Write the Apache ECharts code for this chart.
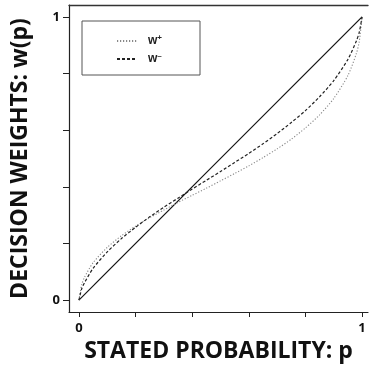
<!DOCTYPE html>
<html><head><meta charset="utf-8">
<script src="https://cdn.jsdelivr.net/npm/echarts@6/dist/echarts.min.js"></script>
<style>html,body{margin:0;padding:0;background:#fff}#c{width:370px;height:376px}</style>
</head><body><div id="c"></div>
<script>
// stated probability p
const pValues = [0, 0.01, 0.02, 0.05, 0.1, 0.15, 0.2, 0.25, 0.3, 0.35, 0.4, 0.45, 0.5, 0.55, 0.6, 0.65, 0.7, 0.75, 0.8, 0.85, 0.9, 0.95, 0.98, 0.99, 1];
// w+ (dotted)
const wPlus  = [0, 0.055, 0.081, 0.132, 0.186, 0.227, 0.261, 0.291, 0.318, 0.345, 0.370, 0.395, 0.421, 0.447, 0.474, 0.503, 0.534, 0.568, 0.608, 0.654, 0.712, 0.793, 0.871, 0.912, 1];
// w- (dashed)
const wMinus = [0, 0.040, 0.062, 0.112, 0.170, 0.217, 0.257, 0.294, 0.328, 0.360, 0.392, 0.423, 0.454, 0.486, 0.518, 0.552, 0.588, 0.627, 0.669, 0.718, 0.775, 0.850, 0.915, 0.945, 1];
// identity line
const diagonal = [[0, 0], [1, 1]];
const tickValues = [0, 0.2, 0.4, 0.6, 0.8, 1];
const tickLabels = [0, 1];
const seriesNames = ['w+', 'w-'];
const xTitle = 'STATED PROBABILITY: p';
const yTitle = 'DECISION WEIGHTS: w(p)';

const pair = (ys) => pValues.map((p, i) => [p, ys[i]]);
const titleFont = '"Open Sans", "DejaVu Sans", sans-serif';

const chart = echarts.init(document.getElementById('c'), null, {renderer: 'canvas'});
chart.setOption({
  animation: false,
  backgroundColor: '#fff',
  grid: {left: 69, right: 2, top: 5, bottom: 64, containLabel: false},
  legend: {
    orient: 'vertical', left: 82, top: 21,
    padding: [13, 38, 10, 34],
    itemWidth: 20, itemHeight: 12, itemGap: 5,
    borderColor: '#555', borderWidth: 1,
    data: seriesNames,
    itemStyle: {color: 'transparent', borderWidth: 0, borderColor: 'transparent'},
    formatter: (n) => n === 'w+' ? '{w|w}{s|+}' : '{w|w}{s|\u2013}',
    textStyle: {
      padding: [0, 0, 0, 6],
      rich: {
        w: {fontSize: 12, fontWeight: 'bold', color: '#222', fontFamily: 'Liberation Sans, Arial, sans-serif'},
        s: {fontSize: 8, fontWeight: 'bold', color: '#222', padding: [0, 0, 6, 0], fontFamily: 'Liberation Sans, Arial, sans-serif'}
      }
    }
  },
  xAxis: [{
    type: 'value', min: -0.035, max: 1.021, position: 'bottom',
    name: xTitle, nameLocation: 'middle', nameGap: 24,
    nameTextStyle: {fontSize: 23, fontWeight: 'bold', color: '#111', fontFamily: titleFont},
    splitLine: {show: false},
    axisLine: {show: true, onZero: false, lineStyle: {color: '#222', width: 1.2}},
    axisTick: {show: true, length: 5, customValues: tickValues, lineStyle: {color: '#222', width: 1}},
    axisLabel: {customValues: tickLabels, margin: 10, fontSize: 13, fontWeight: 'bold', color: '#111', fontFamily: titleFont}
  }, {
    type: 'value', min: -0.035, max: 1.021, position: 'top',
    splitLine: {show: false},
    axisLine: {show: true, onZero: false, lineStyle: {color: '#333', width: 1.4}},
    axisTick: {show: false}, axisLabel: {show: false}
  }],
  yAxis: {
    type: 'value', min: -0.042, max: 1.042,
    name: yTitle, nameLocation: 'middle', nameGap: 37,
    nameTextStyle: {fontSize: 23, fontWeight: 'bold', color: '#111', fontFamily: titleFont},
    splitLine: {show: false},
    axisLine: {show: true, onZero: false, lineStyle: {color: '#222', width: 1.2}},
    axisTick: {show: true, length: 6, customValues: tickValues, lineStyle: {color: '#222', width: 1}},
    axisLabel: {customValues: tickLabels, margin: 9, fontSize: 13, fontWeight: 'bold', color: '#111', fontFamily: titleFont}
  },
  series: [
    {name: 'diag', type: 'line', data: diagonal, symbol: 'none', lineStyle: {color: '#111', width: 1.2}},
    {name: 'w+', type: 'line', data: pair(wPlus), symbol: 'none', smooth: 0.25,
      lineStyle: {color: '#888', width: 1.1, type: [1.2, 1.8]}},
    {name: 'w-', type: 'line', data: pair(wMinus), symbol: 'none', smooth: 0.25,
      lineStyle: {color: '#222', width: 1.2, type: [3, 2]}}
  ]
});
</script></body></html>
